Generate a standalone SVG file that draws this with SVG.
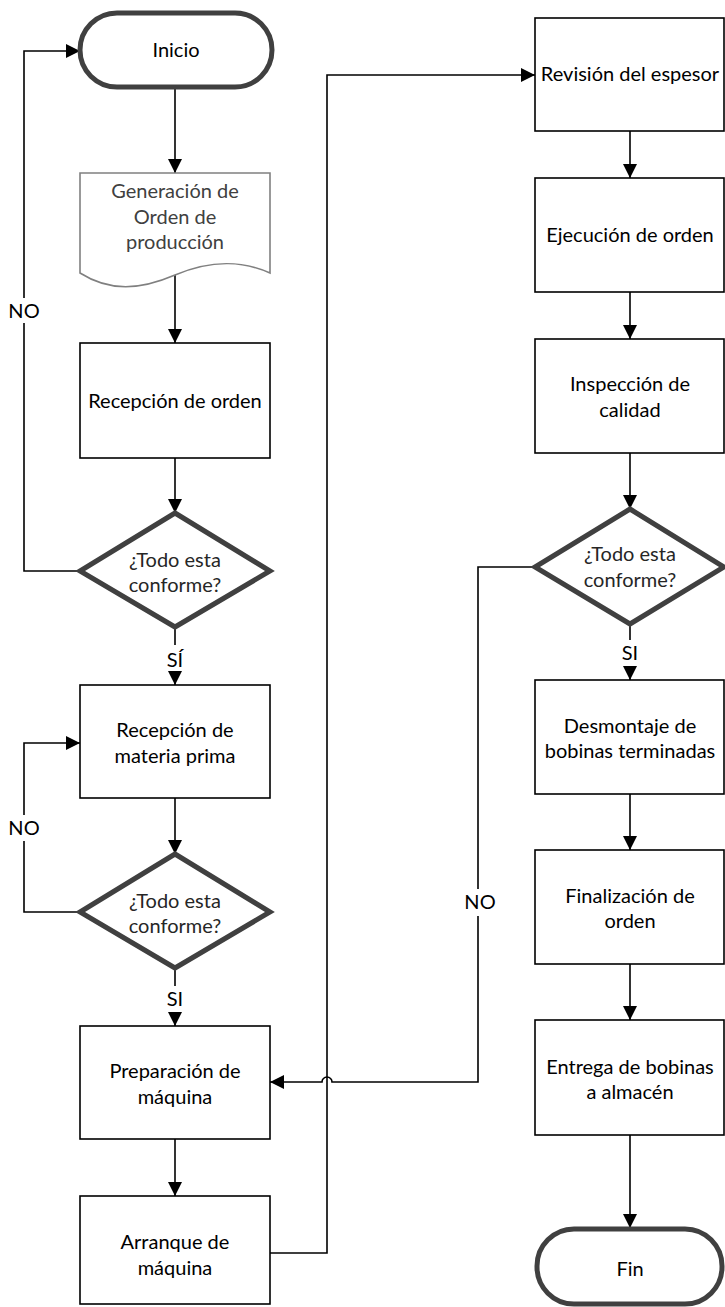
<svg xmlns="http://www.w3.org/2000/svg" width="725" height="1307" viewBox="0 0 725 1307">
<style>
.t{font-family:Lato,"Liberation Sans",sans-serif;font-size:20px;fill:#000;text-anchor:middle}
.g{fill:#404040}
.d{fill:#262626}
.box{fill:#fff;stroke:#000;stroke-width:1.6}
.term{fill:#fff;stroke:#404040;stroke-width:5}
.dia{fill:#fff;stroke:#404040;stroke-width:5;stroke-linejoin:miter}
.doc{fill:#fff;stroke:#808080;stroke-width:1.6}
.c{fill:none;stroke:#000;stroke-width:1.6}
</style>
<defs>
<marker id="ah" markerUnits="userSpaceOnUse" markerWidth="14" markerHeight="14" refX="14" refY="7" orient="auto" viewBox="0 0 14 14">
<path d="M0,0 L14,7 L0,14 z" fill="#000"/>
</marker>
</defs>
<g id="connectors">
<path class="c" d="M175,88 V173" marker-end="url(#ah)"/>
<path class="c" d="M175,275 V343" marker-end="url(#ah)"/>
<path class="c" d="M175,458 V513" marker-end="url(#ah)"/>
<path class="c" d="M80,571 H24 V323 M24,298 V51 H80" marker-end="url(#ah)"/>
<path class="c" d="M175,627 V645 M175,673 V685" marker-end="url(#ah)"/>
<path class="c" d="M175,798 V854" marker-end="url(#ah)"/>
<path class="c" d="M80,912 H24 V841 M24,815 V743 H80" marker-end="url(#ah)"/>
<path class="c" d="M175,968 V986 M175,1012 V1026" marker-end="url(#ah)"/>
<path class="c" d="M175,1139 V1196" marker-end="url(#ah)"/>
<path class="c" d="M270,1253 H327 V75 H535" marker-end="url(#ah)"/>
<path class="c" d="M630,131 V178" marker-end="url(#ah)"/>
<path class="c" d="M630,292 V339" marker-end="url(#ah)"/>
<path class="c" d="M630,453 V509" marker-end="url(#ah)"/>
<path class="c" d="M630,624 V640 M630,667 V680" marker-end="url(#ah)"/>
<path class="c" d="M535,567 H478 V889 M478,916 V1082 H332 A5,5 0 0 0 322,1082 H270" marker-end="url(#ah)"/>
<path class="c" d="M630,794 V850" marker-end="url(#ah)"/>
<path class="c" d="M630,964 V1020" marker-end="url(#ah)"/>
<path class="c" d="M630,1135 V1228" marker-end="url(#ah)"/>
<text class="t" x="24" y="318">NO</text>
<text class="t" x="24" y="835">NO</text>
<text class="t" x="480" y="909">NO</text>
<text class="t" x="175" y="667">SÍ</text>
<text class="t" x="175" y="1006">SI</text>
<text class="t" x="630" y="660">SI</text>
</g>
<g id="inicio">
<rect class="term" x="80" y="13" width="192" height="74" rx="37"/>
<text class="t" x="176" y="57">Inicio</text>
</g>
<g id="generacion">
<path class="doc" d="M80,173 H270 V273 C245,262 215,258 175,275 C140,290 110,292 80,273 Z"/>
<text class="t g" x="175" y="198">Generación de</text>
<text class="t g" x="175" y="224">Orden de</text>
<text class="t g" x="175" y="249">producción</text>
</g>
<g id="recepcion-orden">
<rect class="box" x="80" y="343" width="190" height="115"/>
<text class="t" x="175" y="408">Recepción de orden</text>
</g>
<g id="decision1">
<polygon class="dia" points="175,513 270,571 175,627 80,571"/>
<text class="t d" x="175" y="567">¿Todo esta</text>
<text class="t d" x="175" y="592">conforme?</text>
</g>
<g id="recepcion-materia">
<rect class="box" x="80" y="685" width="190" height="113"/>
<text class="t" x="175" y="737">Recepción de</text>
<text class="t" x="175" y="763">materia prima</text>
</g>
<g id="decision2">
<polygon class="dia" points="175,854 270,912 175,968 80,912"/>
<text class="t d" x="175" y="908">¿Todo esta</text>
<text class="t d" x="175" y="933">conforme?</text>
</g>
<g id="preparacion">
<rect class="box" x="80" y="1026" width="190" height="113"/>
<text class="t" x="175" y="1078">Preparación de</text>
<text class="t" x="175" y="1104">máquina</text>
</g>
<g id="arranque">
<rect class="box" x="80" y="1196" width="190" height="108"/>
<text class="t" x="175" y="1249">Arranque de</text>
<text class="t" x="175" y="1275">máquina</text>
</g>
<g id="revision">
<rect class="box" x="535" y="18" width="189" height="113"/>
<text class="t" x="630" y="81">Revisión del espesor</text>
</g>
<g id="ejecucion">
<rect class="box" x="535" y="178" width="189" height="114"/>
<text class="t" x="630" y="242">Ejecución de orden</text>
</g>
<g id="inspeccion">
<rect class="box" x="535" y="339" width="189" height="114"/>
<text class="t" x="630" y="391">Inspección de</text>
<text class="t" x="630" y="417">calidad</text>
</g>
<g id="decision3">
<polygon class="dia" points="630,509 724,567 630,624 535,567"/>
<text class="t d" x="630" y="561">¿Todo esta</text>
<text class="t d" x="630" y="587">conforme?</text>
</g>
<g id="desmontaje">
<rect class="box" x="535" y="680" width="189" height="114"/>
<text class="t" x="630" y="733">Desmontaje de</text>
<text class="t" x="630" y="758">bobinas terminadas</text>
</g>
<g id="finalizacion">
<rect class="box" x="535" y="850" width="189" height="114"/>
<text class="t" x="630" y="903">Finalización de</text>
<text class="t" x="630" y="928">orden</text>
</g>
<g id="entrega">
<rect class="box" x="535" y="1020" width="189" height="115"/>
<text class="t" x="630" y="1074">Entrega de bobinas</text>
<text class="t" x="630" y="1099">a almacén</text>
</g>
<g id="fin">
<rect class="term" x="537" y="1229" width="185" height="75" rx="37"/>
<text class="t" x="630" y="1276">Fin</text>
</g>
</svg>
